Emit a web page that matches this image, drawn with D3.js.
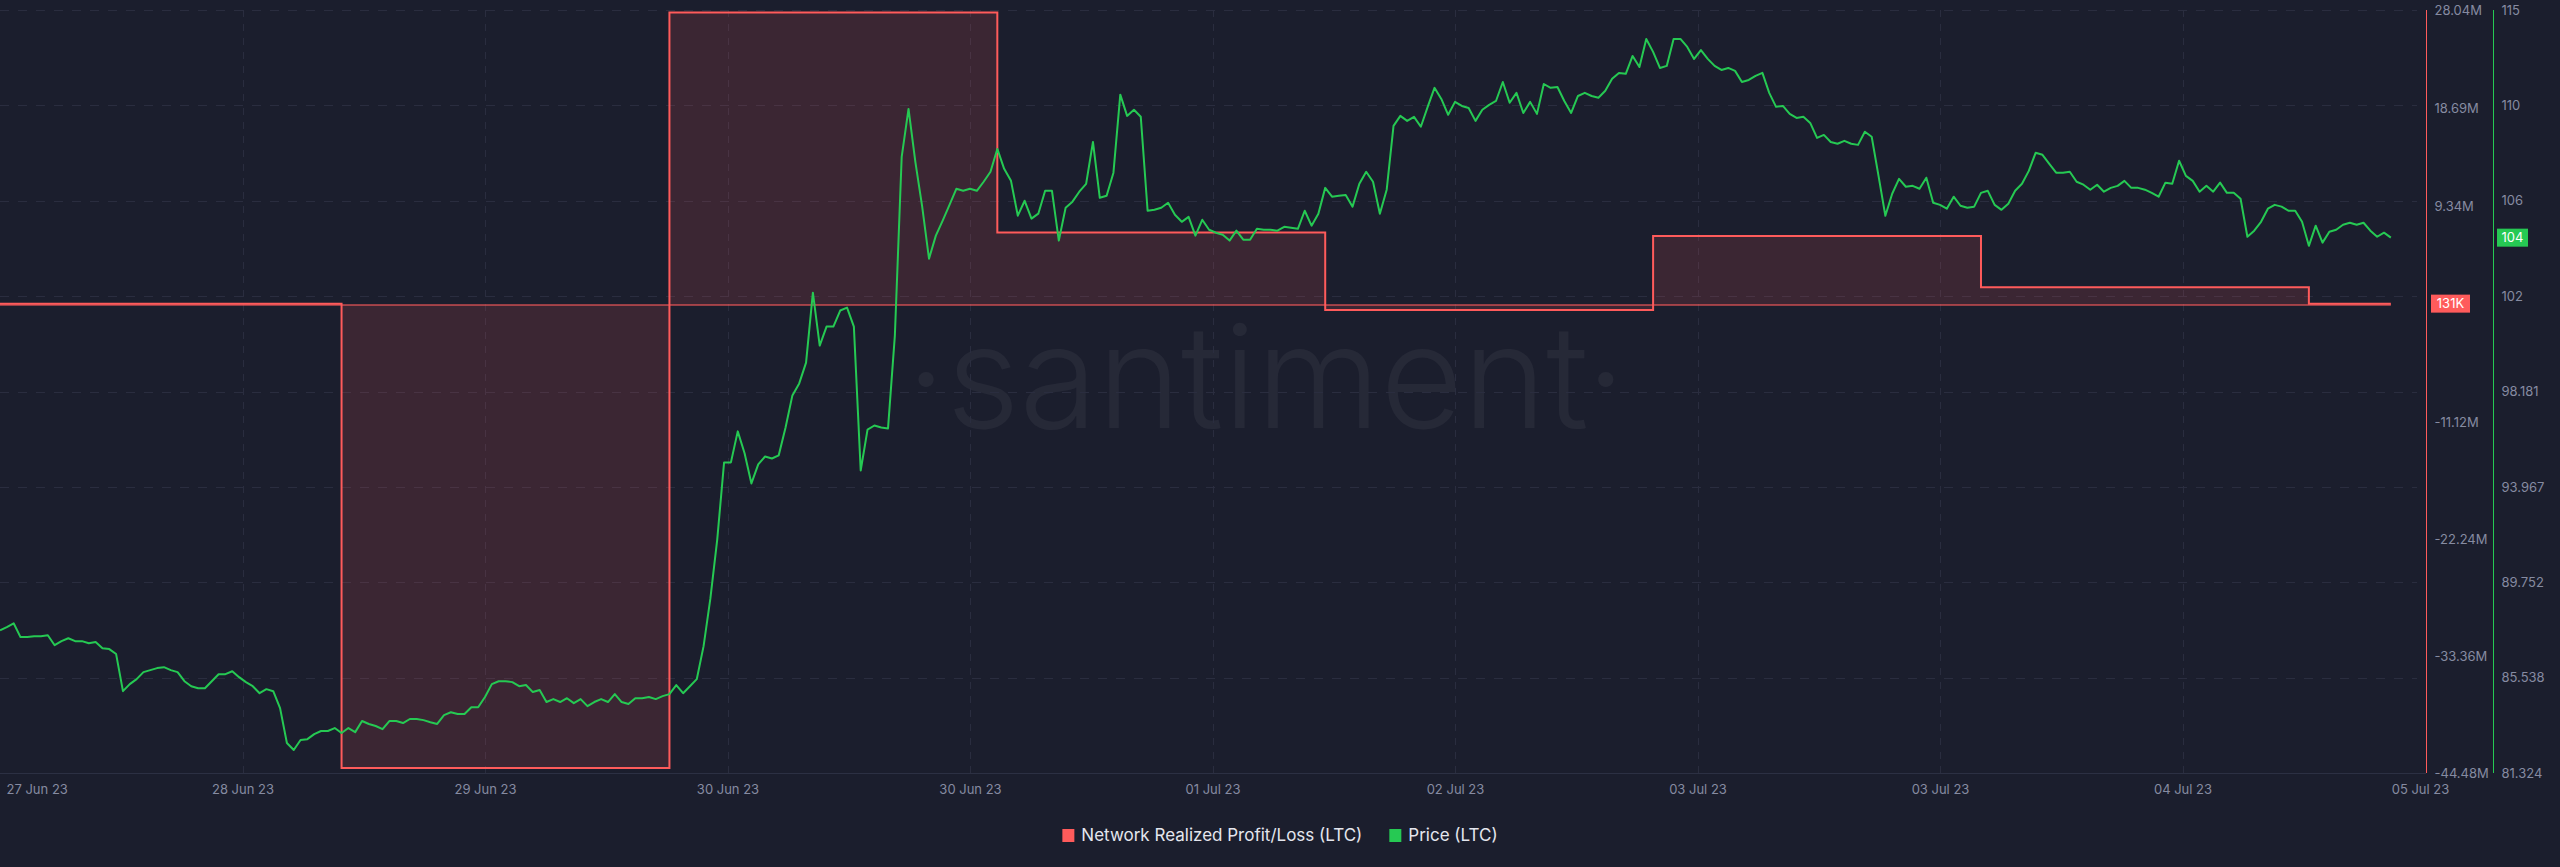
<!DOCTYPE html>
<html><head><meta charset="utf-8">
<script src="https://cdnjs.cloudflare.com/ajax/libs/d3/7.8.5/d3.min.js"></script>
<style>
html,body{margin:0;padding:0;background:#1b1e2d;}
svg{display:block;font-family:Inter,"Open Sans",sans-serif;}
</style></head>
<body><svg id="chart" width="2560" height="867"></svg>
<script>
// ---------------- DATA ----------------
const priceStart = "2023-06-27T23:00:00Z";
const priceStepMinutes = 30;
const priceValues = [
87.63,87.77,87.94,87.33,87.33,87.37,87.37,87.41,86.97,87.15,
87.28,87.15,87.15,87.06,87.11,86.84,86.80,86.58,84.94,85.25,
85.47,85.78,85.87,85.96,86.00,85.87,85.78,85.38,85.16,85.07,
85.07,85.38,85.69,85.69,85.82,85.56,85.34,85.16,84.85,85.03,
84.94,84.19,82.65,82.34,82.78,82.82,83.04,83.18,83.18,83.31,
83.09,83.31,83.13,83.62,83.49,83.40,83.26,83.62,83.62,83.53,
83.71,83.71,83.66,83.57,83.49,83.88,84.01,83.93,83.93,84.23,
84.23,84.68,85.25,85.38,85.38,85.34,85.16,85.21,84.90,84.99,
84.46,84.59,84.46,84.63,84.41,84.59,84.28,84.46,84.59,84.46,
84.81,84.46,84.37,84.63,84.63,84.68,84.59,84.72,84.81,85.21,
84.85,85.16,85.47,86.93,89.05,91.65,95.05,95.05,96.42,95.45,
94.12,94.96,95.31,95.22,95.36,96.59,98.01,98.54,99.46,102.55,
100.21,101.05,101.05,101.76,101.89,101.05,94.69,96.50,96.68,96.59,
96.55,100.65,108.55,110.67,108.33,106.35,104.05,105.07,105.73,106.43,
107.14,107.05,107.14,107.05,107.45,107.89,108.90,108.02,107.49,105.95,
106.61,105.82,106.04,107.05,107.05,104.85,106.30,106.57,107.01,107.36,
109.21,106.74,106.83,107.85,111.30,110.36,110.63,110.32,106.17,106.21,
106.30,106.52,105.99,105.68,105.90,105.07,105.77,105.33,105.20,105.11,
104.85,105.29,104.89,104.89,105.37,105.33,105.33,105.29,105.46,105.42,
105.37,106.17,105.51,106.04,107.18,106.79,106.83,106.87,106.35,107.36,
107.89,107.45,106.04,107.10,109.92,110.36,110.14,110.32,109.88,110.76,
111.60,111.11,110.41,110.98,110.80,110.71,110.14,110.63,110.85,111.02,
111.86,110.94,111.38,110.49,110.98,110.45,111.77,111.60,111.64,111.02,
110.49,111.24,111.38,111.24,111.16,111.47,112.00,112.26,112.22,113.01,
112.52,113.76,113.19,112.48,112.57,113.76,113.76,113.41,112.88,113.27,
112.88,112.57,112.39,112.48,112.35,111.86,111.95,112.13,112.26,111.38,
110.76,110.80,110.45,110.27,110.32,110.05,109.39,109.52,109.21,109.13,
109.26,109.13,109.08,109.66,109.44,107.71,105.95,106.92,107.58,107.23,
107.27,107.14,107.63,106.52,106.43,106.26,106.79,106.39,106.30,106.35,
106.96,107.05,106.43,106.21,106.48,107.05,107.36,107.93,108.73,108.64,
108.24,107.85,107.85,107.89,107.45,107.32,107.10,107.32,107.01,107.18,
107.27,107.49,107.18,107.18,107.10,106.96,106.79,107.41,107.36,108.38,
107.71,107.49,107.01,107.27,107.01,107.41,106.96,106.96,106.70,105.02,
105.29,105.68,106.26,106.43,106.35,106.17,106.17,105.68,104.62,105.51,
104.76,105.24,105.33,105.55,105.64,105.55,105.64,105.29,105.02,105.20,
104.98
];
const plDates = ["2023-06-28","2023-06-29","2023-06-30","2023-07-01","2023-07-02","2023-07-03","2023-07-04","2023-07-05"];
const plValues = [131000, -44000000, 27800000, 6900000, -470000, 6560000, 1680000, 131000];
const plLastLabel = "131K";
const xTickLabels = ["27 Jun 23","28 Jun 23","29 Jun 23","30 Jun 23","30 Jun 23","01 Jul 23","02 Jul 23","03 Jul 23","03 Jul 23","04 Jul 23","05 Jul 23"];
const plTickValues = [28.04e6, 18.69e6, 9.34e6, -11.12e6, -22.24e6, -33.36e6, -44.48e6];
const plTickLabels = ["28.04M","18.69M","9.34M","-11.12M","-22.24M","-33.36M","-44.48M"];
const priceTickValues = [81.324, 85.538, 89.752, 93.967, 98.181, 102.395, 106.61, 110.824, 115.04];
const priceTickLabels = ["81.324","85.538","89.752","93.967","98.181","102","106","110","115"];
const seriesNames = ["Network Realized Profit/Loss (LTC)", "Price (LTC)"];
const watermarkText = "·santiment·";

// ---------------- LAYOUT ----------------
const M = {left: 0, right: 2425, top: 10, bottom: 773};
const RED = "#ff5b5b", GREEN = "#26c953";
const GRID = "#2a2d3f", AXIS_TXT = "#868ba1";
const HOUR = 3600e3;
const t0 = new Date(priceStart);
const tEnd = new Date(t0.getTime() + 177.5 * HOUR);

const svg = d3.select("#chart");
const x = d3.scaleUtc().domain([t0, tEnd]).range([M.left, M.right]);
const yPL = d3.scaleLinear().domain([-44.48e6, 28.04e6]).range([M.bottom, M.top]);
const yP = d3.scaleLinear().domain([81.324, 115.04]).range([M.bottom, M.top]);

svg.append("rect").attr("width", 2560).attr("height", 867).attr("fill", "#1b1e2d");

svg.append("defs").append("clipPath").attr("id", "plot")
  .append("rect").attr("x", M.left).attr("y", M.top - 4).attr("width", M.right - M.left).attr("height", M.bottom - M.top + 6);

// watermark
svg.append("text").attr("x", 1266).attr("y", 428).attr("text-anchor", "middle")
  .attr("font-size", 142).attr("font-weight", 300).attr("fill", "rgba(255,255,255,0.05)")
  .text(watermarkText);

// grid
const xTicks = d3.range(xTickLabels.length).map(k => new Date(t0.getTime() + k * (tEnd - t0) / (xTickLabels.length - 1)));
const grid = svg.append("g");
grid.selectAll("line.h").data(priceTickValues.slice(1)).join("line")
  .attr("x1", M.left).attr("x2", M.right - 8)
  .attr("y1", d => Math.round(yP(d)) + 0.5).attr("y2", d => Math.round(yP(d)) + 0.5)
  .attr("stroke", GRID).attr("stroke-dasharray", "9,9");
grid.selectAll("line.v").data(xTicks.slice(1, -1)).join("line")
  .attr("x1", d => Math.round(x(d)) + 0.5).attr("x2", d => Math.round(x(d)) + 0.5)
  .attr("y1", M.top).attr("y2", M.bottom)
  .attr("stroke", GRID).attr("stroke-dasharray", "7,7");

// x axis baseline
svg.append("line").attr("x1", 0).attr("x2", M.right + 1).attr("y1", M.bottom + 0.5).attr("y2", M.bottom + 0.5)
  .attr("stroke", "#2c3043");

// x axis labels
const xAxis = d3.axisBottom(x).tickValues(xTicks).tickSize(0).tickFormat((d, i) => xTickLabels[i]);
const gx = svg.append("g").attr("transform", `translate(0,${M.bottom + 9})`).call(xAxis);
gx.select(".domain").remove();
gx.selectAll("text").attr("fill", AXIS_TXT).attr("font-size", 13).attr("font-family", "Inter,sans-serif");
gx.selectAll(".tick").filter((d, i) => i === 0).select("text").attr("text-anchor", "start").attr("x", 6);
gx.selectAll(".tick").filter((d, i) => i === xTickLabels.length - 1).select("text").attr("x", -5);

// profit / loss series
const plPts = plDates.map((d, i) => ({t: new Date(d + "T00:00:00Z"), v: plValues[i]}));
const lastPriceT = new Date(t0.getTime() + (priceValues.length - 1) * priceStepMinutes * 60e3);
const plDraw = [{t: t0, v: plPts[0].v}, ...plPts.slice(1), {t: lastPriceT, v: plPts[plPts.length - 1].v}];
const plot = svg.append("g").attr("clip-path", "url(#plot)");
plot.append("path").datum(plDraw)
  .attr("d", d3.area().x(d => x(d.t)).y0(yPL(0)).y1(d => yPL(d.v)).curve(d3.curveStepAfter))
  .attr("fill", RED).attr("fill-opacity", 0.14);
plot.append("line").attr("x1", x(t0)).attr("x2", x(lastPriceT)).attr("y1", yPL(0)).attr("y2", yPL(0))
  .attr("stroke", RED).attr("stroke-opacity", 0.55).attr("stroke-width", 2);
plot.append("path").datum(plDraw)
  .attr("d", d3.line().x(d => x(d.t)).y(d => yPL(d.v)).curve(d3.curveStepAfter))
  .attr("fill", "none").attr("stroke", RED).attr("stroke-width", 2);

// price series
const priceData = priceValues.map((v, i) => ({t: new Date(t0.getTime() + i * priceStepMinutes * 60e3), v}));
plot.append("path").datum(priceData)
  .attr("d", d3.line().x(d => x(d.t)).y(d => yP(d.v)))
  .attr("fill", "none").attr("stroke", GREEN).attr("stroke-width", 2).attr("stroke-linejoin", "round");

// right axes
const redAxisX = 2426.5, greenAxisX = 2493.5;
svg.append("line").attr("x1", redAxisX).attr("x2", redAxisX).attr("y1", M.top).attr("y2", M.bottom).attr("stroke", RED);
svg.append("line").attr("x1", greenAxisX).attr("x2", greenAxisX).attr("y1", M.top).attr("y2", M.bottom).attr("stroke", GREEN);

const gR = svg.append("g").attr("transform", `translate(${redAxisX},0)`)
  .call(d3.axisRight(yPL).tickValues(plTickValues).tickSize(0).tickPadding(8).tickFormat((d, i) => plTickLabels[i]));
gR.select(".domain").remove();
gR.selectAll("text").attr("fill", AXIS_TXT).attr("font-size", 13).attr("font-family", "Inter,sans-serif");

const gG = svg.append("g").attr("transform", `translate(${greenAxisX},0)`)
  .call(d3.axisRight(yP).tickValues(priceTickValues).tickSize(0).tickPadding(8).tickFormat((d, i) => priceTickLabels[i]));
gG.select(".domain").remove();
gG.selectAll("text").attr("fill", AXIS_TXT).attr("font-size", 13).attr("font-family", "Inter,sans-serif");

// last value badges
const lastPL = plValues[plValues.length - 1];
const yl1 = yPL(lastPL);
svg.append("rect").attr("x", 2431).attr("y", yl1 - 9).attr("width", 39).attr("height", 18).attr("fill", RED);
svg.append("text").attr("x", 2450.5).attr("y", yl1).attr("dy", "0.35em").attr("text-anchor", "middle")
  .attr("fill", "#fff").attr("font-size", 13).text(plLastLabel);
const lastPrice = priceValues[priceValues.length - 1];
const yl2 = yP(lastPrice);
svg.append("rect").attr("x", 2497).attr("y", yl2 - 9).attr("width", 31).attr("height", 18).attr("fill", GREEN);
svg.append("text").attr("x", 2512.5).attr("y", yl2).attr("dy", "0.35em").attr("text-anchor", "middle")
  .attr("fill", "#fff").attr("font-size", 13).text(Math.floor(lastPrice));

// legend
const legend = svg.append("g");
const colors = [RED, GREEN];
let cx = 0;
seriesNames.forEach((name, i) => {
  const g = legend.append("g");
  g.append("rect").attr("x", 0).attr("y", -6).attr("width", 12).attr("height", 13).attr("fill", colors[i]);
  const t = g.append("text").attr("x", 19).attr("y", 0).attr("dy", "0.35em").attr("fill", "#e4e6ee")
    .attr("font-size", 17).text(name);
  const w = 19 + t.node().getComputedTextLength();
  g.attr("transform", `translate(${cx},0)`);
  cx += w + 27;
});
const totalW = cx - 27;
legend.attr("transform", `translate(${1280 - totalW / 2},835)`);
</script>
</body></html>
